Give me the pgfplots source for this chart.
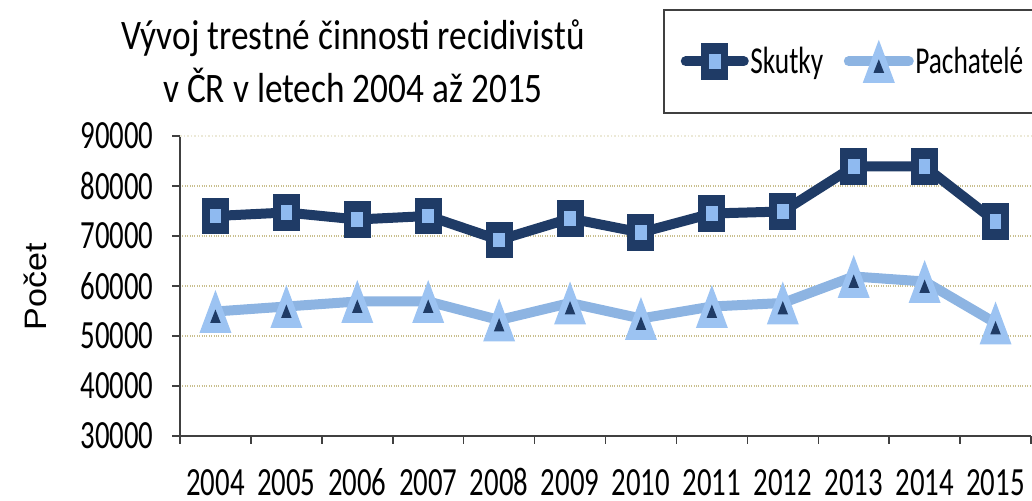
\documentclass[border=0pt]{standalone}
\usepackage{fontspec}
\setmainfont{Carlito}[FakeStretch=0.72]
\newfontfamily\titlefont{Carlito}[FakeStretch=0.84]
\newfontfamily\labfont{Liberation Sans}[FakeStretch=1.1]
\usepackage{pgfplots}
\pgfplotsset{compat=1.18}
\definecolor{navy}{HTML}{1F3B66}
\definecolor{lightline}{HTML}{8DB4E2}
\definecolor{lightmk}{HTML}{9CC3F2}
\definecolor{lightsq}{HTML}{8FBAF0}
\definecolor{gridc}{HTML}{C9BF8E}
\pgfdeclareplotmark{skutkymark}{%
  \pgfscope
  \pgfsetcornersarced{\pgfpoint{6pt}{6pt}}%
  \pgfpathrectanglecorners{\pgfpoint{-13.5pt}{-18.3pt}}{\pgfpoint{13.5pt}{18.3pt}}%
  \pgfsetfillcolor{navy}%
  \pgfusepathqfill
  \endpgfscope
  \pgfscope
  \pgfpathrectanglecorners{\pgfpoint{-5.8pt}{-7.3pt}}{\pgfpoint{5.8pt}{7.3pt}}%
  \pgfsetfillcolor{lightsq}%
  \pgfusepathqfill
  \endpgfscope
}
\pgfdeclareplotmark{pachmark}{%
  \pgfscope
  \pgfsetcornersarced{\pgfpoint{4pt}{4pt}}%
  \pgfpathmoveto{\pgfpoint{0pt}{-21.5pt}}%
  \pgfpathlineto{\pgfpoint{16pt}{-21.5pt}}%
  \pgfpathlineto{\pgfpoint{0pt}{21.5pt}}%
  \pgfpathlineto{\pgfpoint{-16pt}{-21.5pt}}%
  \pgfpathclose
  \pgfsetfillcolor{lightmk}%
  \pgfusepathqfill
  \endpgfscope
  \pgfscope
  \pgfpathmoveto{\pgfpoint{-5.3pt}{-11.5pt}}%
  \pgfpathlineto{\pgfpoint{5.3pt}{-11.5pt}}%
  \pgfpathlineto{\pgfpoint{0pt}{2pt}}%
  \pgfpathclose
  \pgfsetfillcolor{navy}%
  \pgfusepathqfill
  \endpgfscope
}
\pgfplotsset{
  legA/.style={legend image code/.code={\draw[##1, line cap=round, mark repeat=2, mark phase=2] plot coordinates {(0pt,0pt) (29pt,0pt) (58pt,0pt)};}},
  legB/.style={legend image code/.code={\draw[##1, line cap=round, mark repeat=2, mark phase=2] plot coordinates {(0pt,0pt) (30pt,0pt) (60pt,0pt)};}},
}
\begin{document}
\begin{tikzpicture}[x=1pt,y=1pt]
\path[use as bounding box] (0,0) rectangle (1032,500);
\begin{axis}[
  at={(180pt,64pt)}, anchor=south west,
  scale only axis, width=851pt, height=300pt,
  xmin=-0.5, xmax=11.5, ymin=30000, ymax=90000,
  axis x line=bottom, axis y line=left,
  axis line style={-, draw=black!75, line width=1.5pt},
  xtick={-0.5,0.5,...,11.5}, xticklabels={},
  extra x ticks={0,1,2,3,4,5,6,7,8,9,10,11},
  extra x tick labels={2004,2005,2006,2007,2008,2009,2010,2011,2012,2013,2014,2015},
  extra x tick style={major tick length=0pt, xticklabel style={anchor=base, yshift=-59pt}},
  ytick={30000,40000,...,80000},
  extra y ticks={90000},
  extra y tick style={ymajorgrids=true, y grid style={gridc!35, dotted, line width=1.5pt}},
  scaled y ticks=false,
  yticklabel style={xshift=-15pt},
  major tick length=8pt, tick align=outside,
  tick style={draw=black!75, line width=1.5pt},
  ymajorgrids=true,
  y grid style={gridc, dotted, line width=1.5pt},
  /pgf/number format/1000 sep={},
  /pgf/number format/assume math mode=true,
  ticklabel style={font=\fontsize{40}{44}\selectfont},
  clip=false,
  title={Vývoj trestné činnosti recidivistů\\v ČR v letech 2004 až 2015},
  title style={at={(axis description cs:0.2033,1.228)}, anchor=center, align=center, font=\titlefont\fontsize{42}{53}\selectfont},
  ylabel={Počet},
  ylabel style={at={(axis description cs:-0.1704,0.497)}, anchor=center, font=\labfont\fontsize{31}{36}\selectfont},
  legend columns=2,
  legend style={at={(axis description cs:0.5676,1.4233)}, anchor=north west,
    draw=black!75, line width=1.5pt, inner xsep=17pt, inner ysep=30pt,
    font=\fontsize{38}{42}\selectfont,
    nodes={inner sep=1.5pt},
    /tikz/every even column/.append style={column sep=19pt}},
  legend cell align=left,
]
\addplot[navy, line width=10pt, line join=round, mark=skutkymark, legA]
  coordinates {(0,74000) (1,74700) (2,73300) (3,74000) (4,69200) (5,73500) (6,70700) (7,74500) (8,74900) (9,83900) (10,83900) (11,72900)};
\addlegendentry{Skutky}
\addplot[lightline, line width=10pt, line join=round, mark=pachmark, legB]
  coordinates {(0,54900) (1,55900) (2,56900) (3,56900) (4,53200) (5,56600) (6,53500) (7,55900) (8,56600) (9,61900) (10,60900) (11,52600)};
\addlegendentry{Pachatelé}
\end{axis}
\end{tikzpicture}
\end{document}
